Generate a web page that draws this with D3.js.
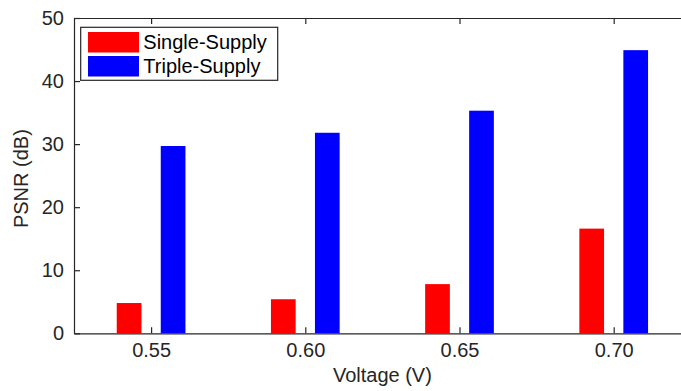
<!DOCTYPE html>
<html>
<head>
<meta charset="utf-8">
<script src="https://cdn.jsdelivr.net/npm/d3@7"></script>
<style>
  html, body { margin: 0; padding: 0; background: #fff; }
  svg { display: block; font-family: "Liberation Sans", Arial, Helvetica, sans-serif; }
</style>
</head>
<body>
<svg id="chart" width="681" height="391"></svg>
<script>
// PSNR at each supply voltage, single vs triple supply
const voltages = [0.55, 0.60, 0.65, 0.70];
const voltageLabels = ["0.55", "0.60", "0.65", "0.70"];
const singleSupply = [4.8, 5.4, 7.8, 16.6];
const tripleSupply = [29.7, 31.8, 35.3, 44.9];
const seriesNames = ["Single-Supply", "Triple-Supply"];
const seriesColors = ["#ff0000", "#0000ff"];
const yTicks = [0, 10, 20, 30, 40, 50];

const svg = d3.select("#chart");
const axisColor = "#262626";
const fontSize = 20;

const plotLeft = 74, plotTop = 18, plotBottom = 333.3;
const pxPerStep = 154.2; // width of one 0.05 V step
const plotRight = plotLeft + pxPerStep * 4; // extends past the window edge

const x = d3.scaleLinear().domain([0.525, 0.725]).range([plotLeft, plotRight]);
const y = d3.scaleLinear().domain([0, 50]).range([plotBottom, plotTop]);

const barW = 24.7;
const barOffset = 22;

const series = [singleSupply, tripleSupply];
series.forEach((vals, si) => {
  svg.append("g").selectAll("rect")
    .data(vals)
    .join("rect")
    .attr("x", (d, i) => x(voltages[i]) + (si === 0 ? -barOffset : barOffset) - barW / 2)
    .attr("y", d => y(d))
    .attr("width", barW)
    .attr("height", d => y(0) - y(d))
    .attr("fill", seriesColors[si]);
});

// Axes: box edges with inward ticks
const tickLen = 6;
const xAxisBottom = d3.axisBottom(x).tickValues(voltages).tickSizeInner(-tickLen).tickSizeOuter(0)
  .tickFormat((d, i) => voltageLabels[i]).tickPadding(10);
const xAxisTop = d3.axisTop(x).tickValues(voltages).tickSizeInner(-tickLen).tickSizeOuter(0)
  .tickFormat("");
const yAxisLeft = d3.axisLeft(y).tickValues(yTicks).tickSizeInner(-tickLen).tickSizeOuter(0)
  .tickPadding(10);

function styleAxis(g) {
  g.select(".domain").attr("stroke", axisColor).attr("stroke-width", 1.2);
  g.selectAll(".tick line").attr("stroke", axisColor).attr("stroke-width", 1.2);
  g.selectAll(".tick text").attr("fill", "#262626").attr("font-size", fontSize)
    .attr("font-family", "Liberation Sans, Arial, sans-serif");
}

svg.append("g").attr("transform", `translate(0,${plotBottom})`).call(xAxisBottom).call(styleAxis);
svg.append("g").attr("transform", `translate(0,${plotTop})`).call(xAxisTop).call(styleAxis);
svg.append("g").attr("transform", `translate(${plotLeft},0)`).call(yAxisLeft).call(styleAxis);

// Axis titles
svg.append("text")
  .attr("x", x(0.625)).attr("y", 382)
  .attr("text-anchor", "middle").attr("font-size", fontSize).attr("fill", "#262626")
  .text("Voltage (V)");
svg.append("text")
  .attr("transform", `translate(28,${(plotTop + plotBottom) / 2 + 3}) rotate(-90)`)
  .attr("text-anchor", "middle").attr("font-size", fontSize).attr("fill", "#262626")
  .text("PSNR (dB)");

// Legend
const legend = svg.append("g");
legend.append("rect")
  .attr("x", 80.7).attr("y", 27.3).attr("width", 197).attr("height", 53)
  .attr("fill", "#fff").attr("stroke", axisColor).attr("stroke-width", 1.2);
seriesNames.forEach((name, i) => {
  legend.append("rect")
    .attr("x", 88).attr("y", 32 + i * 24).attr("width", 51).attr("height", 20.5)
    .attr("fill", seriesColors[i]);
  legend.append("text")
    .attr("x", 143.3).attr("y", 48.5 + i * 24.3)
    .attr("font-size", fontSize).attr("fill", "#000")
    .text(name);
});
</script>
</body>
</html>
